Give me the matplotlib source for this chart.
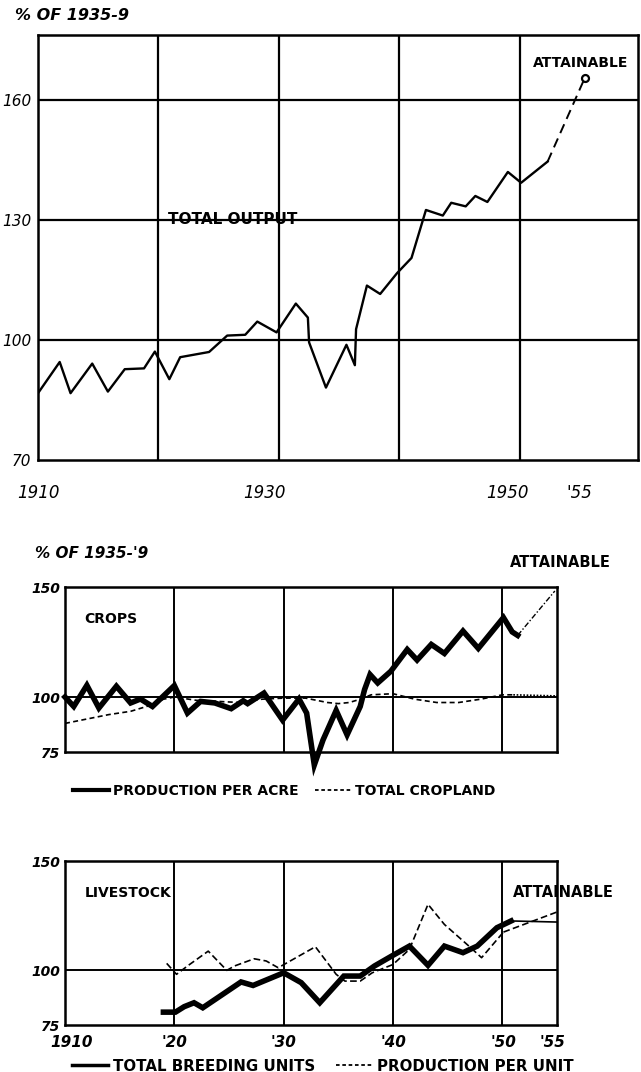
import matplotlib
matplotlib.use("Agg")
import matplotlib.pyplot as plt
from matplotlib.lines import Line2D

plt.rcParams['font.family'] = ['DejaVu Sans']

# Total output, % of 1935-9
total_years = [1910, 1911.8, 1912.7, 1914.5, 1915.8, 1917.2, 1918.8, 1919.7, 1920.9, 1921.8,
               1924.2, 1925.7, 1927.2, 1928.2, 1929.8, 1931.4, 1932.4, 1932.5, 1933.9, 1935.6,
               1936.3, 1936.4, 1937.3, 1938.4, 1939.8, 1941.0, 1942.2, 1943.6, 1944.3, 1945.5,
               1946.3, 1947.3, 1949.0, 1950.1, 1952.3]
total_values = [86.7, 94.5, 86.7, 94.1, 87.1, 92.7, 92.9, 97.1, 90.2, 95.7,
                97.0, 101.1, 101.3, 104.6, 101.9, 109.1, 105.6, 99.4, 88.1, 98.8,
                93.7, 102.7, 113.6, 111.5, 116.7, 120.5, 132.5, 131.1, 134.3, 133.4,
                136.0, 134.5, 142.0, 139.3, 144.6]
total_att_years = [1952.3, 1955.4]
total_att_values = [144.6, 165.6]

# Crops
acre_years = [1910, 1910.8, 1912.0, 1913.1, 1914.7, 1916.0, 1916.9, 1918.0, 1920.0, 1921.2,
              1922.4, 1923.7, 1925.2, 1926.3, 1926.7, 1928.2, 1929.9, 1931.4, 1932.1, 1932.8,
              1933.6, 1934.8, 1935.8, 1937.0, 1937.4, 1937.9, 1938.6, 1939.8, 1941.3, 1942.2,
              1943.5, 1944.7, 1946.4, 1947.8, 1950.1, 1950.9, 1951.4]
acre_values = [100, 95.7, 105.3, 95.0, 104.9, 97.3, 99.1, 95.7, 105.2, 92.7,
               98.0, 97.3, 94.7, 98.3, 97.0, 101.8, 89.5, 99.1, 92.7, 69.1,
               80.5, 93.9, 82.8, 95.7, 103.4, 110.2, 106.4, 111.7, 121.6, 116.8,
               123.9, 119.8, 130.0, 122.1, 136.1, 129.6, 128.0]
acre_att_years = [1951.4, 1954.8]
acre_att_values = [128.0, 148.2]

cropland_years = [1910, 1912, 1914, 1916, 1918, 1919, 1920, 1922, 1924, 1926, 1928, 1930,
                  1932, 1934, 1935, 1936, 1937, 1938, 1940, 1942, 1944, 1946, 1948, 1950, 1951]
cropland_values = [88, 90, 92, 93.5, 96.5, 99, 100, 98.5, 98, 97.5, 99, 99.5,
                   99.5, 97.5, 97, 97.5, 99, 101, 101.5, 99, 97.5, 97.5, 99, 101, 101]
cropland_att_years = [1951, 1955]
cropland_att_values = [101, 100.5]

# Livestock
breed_years = [1919, 1920.1, 1920.9, 1921.8, 1922.6, 1926.1, 1927.2, 1930.0, 1931.6, 1933.3,
               1935.5, 1937.0, 1938.3, 1940.0, 1941.5, 1943.2, 1944.7, 1946.4, 1947.7, 1949.5,
               1950.8]
breed_values = [80.9, 80.9, 83.4, 85.2, 82.9, 94.7, 93.1, 98.9, 94.4, 85.2,
                97.4, 97.4, 102.0, 106.9, 111.1, 102.3, 111.1, 108.1, 111.1, 119.5,
                122.6]
breed_att_years = [1950.8, 1955]
breed_att_values = [122.6, 122.1]

unit_years = [1919.3, 1920.2, 1921.2, 1923.1, 1924.8, 1925.5, 1927.3, 1928.4, 1929.5, 1932.9,
              1934.8, 1935.6, 1937.0, 1938.1, 1940.0, 1941.5, 1943.2, 1944.7, 1947.1, 1948.1,
              1950.1]
unit_values = [103.2, 98.2, 102.0, 108.8, 100.0, 102.0, 105.3, 104.3, 101.2, 110.8,
               98.2, 95.1, 95.1, 98.9, 102.7, 109.6, 130.2, 121.0, 110.4, 105.8,
               117.5]
unit_att_years = [1950.1, 1955]
unit_att_values = [117.5, 126.7]

fs = 10
fig = plt.figure(figsize=(6.41, 10.72), dpi=100)


def frame(ax, lw=1.8):
    for s in ax.spines.values():
        s.set_linewidth(lw)
    ax.tick_params(length=0)


# ---- panel 1: total output
ax1 = fig.add_axes([0.0593, 0.5709, 0.936, 0.3965])
ax1.set_xlim(1910, 1959.8)
ax1.set_ylim(70, 176.25)
for x in [1920, 1930, 1940, 1950]:
    ax1.axvline(x, color='black', lw=1.6, zorder=1)
for y in [100, 130, 160]:
    ax1.axhline(y, color='black', lw=1.6, zorder=1)
ax1.plot(total_years, total_values, color='black', lw=1.7, zorder=3)
ax1.plot(total_att_years, total_att_values, color='black', lw=1.4, ls=(0, (5, 3)), zorder=3)
ax1.plot(total_att_years[-1:], total_att_values[-1:], 'o', ms=5, mfc='white', mec='black', mew=1.6)
ax1.set_yticks([70, 100, 130, 160])
ax1.set_yticklabels(['70', '100', '130', '160'], fontsize=11, style='italic')
ax1.set_xticks([1910, 1928.8, 1949, 1954.9])
ax1.set_xticklabels(['1910', '1930', '1950', "'55"], fontsize=12, style='italic')
ax1.tick_params(axis='x', pad=17)
ax1.tick_params(axis='y', pad=5)
frame(ax1)
ax1.text(0.217, 0.555, 'TOTAL OUTPUT', transform=ax1.transAxes, fontsize=11, fontweight='bold')
ax1.text(0.825, 0.925, 'ATTAINABLE', transform=ax1.transAxes, fontsize=fs, fontweight='bold')
fig.text(0.023, 0.986, '% OF 1935-9', fontsize=11.5, fontweight='bold', style='italic', va='center')

# ---- panel 2: crops
ax2 = fig.add_axes([0.1014, 0.2985, 0.7676, 0.1539])
ax2.set_xlim(1910, 1955)
ax2.set_ylim(75, 150)
for x in [1920, 1930, 1940, 1950]:
    ax2.axvline(x, color='black', lw=1.4, zorder=1)
ax2.axhline(100, color='black', lw=1.4, zorder=1)
ax2.plot(cropland_years, cropland_values, color='black', lw=1.2, ls=(0, (3, 2)), zorder=2)
ax2.plot(cropland_att_years, cropland_att_values, color='black', lw=1.2, ls=(0, (1, 1)), zorder=2)
ax2.plot(acre_years, acre_values, color='black', lw=4, zorder=3, clip_on=False,
         solid_joinstyle='miter')
ax2.plot(acre_att_years, acre_att_values, color='black', lw=1, ls=(0, (4, 1.5, 1, 1.5)), zorder=3)
ax2.set_yticks([75, 100, 150])
ax2.set_yticklabels(['75', '100', '150'], fontsize=10, style='italic', fontweight='bold')
ax2.set_xticks([])
frame(ax2)
ax2.text(0.04, 0.78, 'CROPS', transform=ax2.transAxes, fontsize=fs, fontweight='bold')
fig.text(0.055, 0.484, "% OF 1935-'9", fontsize=11, fontweight='bold', style='italic', va='center')
fig.text(0.795, 0.475, 'ATTAINABLE', fontsize=10.5, fontweight='bold', va='center')
ax2.legend(handles=[Line2D([], [], color='black', lw=3),
                    Line2D([], [], color='black', lw=1.3, ls=(0, (2, 1.5)))],
           labels=['PRODUCTION PER ACRE', 'TOTAL CROPLAND'],
           loc='upper left', bbox_to_anchor=(-0.01, -0.12), ncol=2, frameon=False,
           handlelength=2.6, handletextpad=0.3, columnspacing=1.2,
           prop={'size': fs, 'weight': 'bold'})

# ---- panel 3: livestock
ax3 = fig.add_axes([0.1014, 0.0438, 0.7676, 0.153])
ax3.set_xlim(1910, 1955)
ax3.set_ylim(75, 150)
for x in [1920, 1930, 1940, 1950]:
    ax3.axvline(x, color='black', lw=1.4, zorder=1)
ax3.axhline(100, color='black', lw=1.4, zorder=1)
ax3.plot(unit_years, unit_values, color='black', lw=1.2, ls=(0, (4, 2)), zorder=2)
ax3.plot(unit_att_years, unit_att_values, color='black', lw=1.2, ls=(0, (4, 2)), zorder=2)
ax3.plot(breed_years, breed_values, color='black', lw=4, zorder=3, solid_joinstyle='miter')
ax3.plot(breed_att_years, breed_att_values, color='black', lw=1.2, zorder=3)
ax3.set_yticks([75, 100, 150])
ax3.set_yticklabels(['75', '100', '150'], fontsize=10, style='italic', fontweight='bold')
ax3.set_xticks([1910.6, 1920, 1930, 1940, 1950.1, 1954.6])
ax3.set_xticklabels(['1910', "'20", "'30", "'40", "'50", "'55"], fontsize=11,
                    style='italic', fontweight='bold')
ax3.tick_params(axis='x', pad=7)
frame(ax3)
ax3.text(0.04, 0.78, 'LIVESTOCK', transform=ax3.transAxes, fontsize=fs, fontweight='bold')
ax3.text(0.91, 0.78, 'ATTAINABLE', transform=ax3.transAxes, fontsize=10.5, fontweight='bold')
ax3.legend(handles=[Line2D([], [], color='black', lw=2.5),
                    Line2D([], [], color='black', lw=1.3, ls=(0, (2, 1.5)))],
           labels=['TOTAL BREEDING UNITS', 'PRODUCTION PER UNIT'],
           loc='center left', bbox_to_anchor=(-0.0, -0.25), ncol=2, frameon=False,
           handlelength=2.4, handletextpad=0.3, columnspacing=1.4, borderpad=0,
           prop={'size': 10.8, 'weight': 'bold'})

fig.savefig('out.png', dpi=100, facecolor='white')
